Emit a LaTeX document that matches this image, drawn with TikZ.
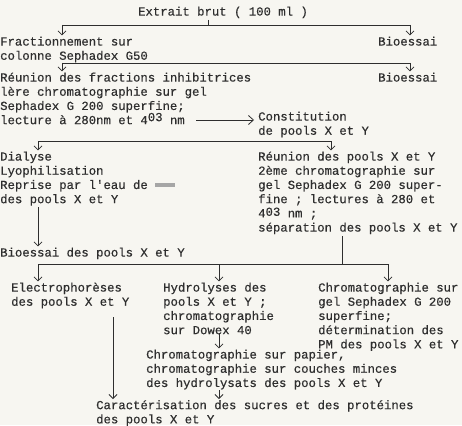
\documentclass[tikz,border=0pt]{standalone}
\usepackage{fontspec}
\setmonofont[FakeBold=0.4]{Liberation Mono}
\usetikzlibrary{positioning}
\usetikzlibrary{arrows.meta}
\definecolor{ink}{HTML}{2E2E2E}
\definecolor{fond}{HTML}{F7F6F1}
\tikzset{
	etape/.style = {anchor = north west, align = left, inner sep = 0pt, text = ink},
	trait/.style = {ink, line width = 0.8pt},
	fleche/.style = {trait, -{Straight Barb[length = 4pt, width = 8pt]}}
}

\begin{document}
\begin{tikzpicture}[x = 1pt, y = -1pt, font = \ttfamily\fontsize{12.3}{14.2}\selectfont]
	\fill[fond] (0, 0) rectangle (462, 425);
	\useasboundingbox (0, 0) rectangle (462, 425);
	\node (extrait) at (223, 5.4) [etape, anchor = north] {\strut Extrait brut ( 100 ml )};
	\node (frac) at (0, 35.4) [etape] {\strut Fractionnement sur\\colonne Sephadex G50};
	\node (bio1) at (378, 35.4) [etape] {\strut Bioessai};
	\node (reunion) at (0, 71.4) [etape] {\strut Réunion des fractions inhibitrices\\lère chromatographie sur gel\\Sephadex G 200 superfine;\\lecture à 280nm et 4\raisebox{3pt}{03} nm};
	\node (bio2) at (378, 71.4) [etape] {\strut Bioessai};
	\node (constit) at (258, 110.4) [etape] {\strut Constitution\\de pools X et Y};
	\node (dialyse) at (0, 150.4) [etape] {\strut Dialyse\\Lyophilisation\\Reprise par l'eau de \textcolor{gray!70}{\rule[2pt]{20pt}{4pt}}\\des pools X et Y};
	\node (pools) at (258, 150.4) [etape] {\strut Réunion des pools X et Y\\2ème chromatographie sur\\gel Sephadex G 200 super-\\fine ; lectures à 280 et\\4\raisebox{1.5pt}{03} nm ;\\séparation des pools X et Y};
	\node (biopools) at (0, 246.4) [etape] {\strut Bioessai des pools X et Y};
	\node (electro) at (11, 281.4) [etape] {\strut Electrophorèses\\des pools X et Y};
	\node (hydro) at (163, 281.4) [etape] {\strut Hydrolyses des\\pools X et Y ;\\chromatographie\\sur Dowex 40};
	\node (gel) at (318, 281.4) [etape] {\strut Chromatographie sur\\gel Sephadex G 200\\superfine;\\détermination des\\PM des pools X et Y};
	\node (papier) at (146, 348.4) [etape] {\strut Chromatographie sur papier,\\chromatographie sur couches minces\\des hydrolysats des pools X et Y};
	\node (caract) at (96, 399) [etape] {\strut Caractérisation des sucres et des protéines\\des pools X et Y};

	\coordinate (a0) at (208, 20);
	\coordinate (a1) at (62, 25);
	\coordinate (a2) at (410, 25);
	\draw[trait] (a0) -- (a0 |- a1);
	\draw[trait] (a1) -- (a2);
	\draw[fleche] (a1) -- (a1 |- frac.north);
	\draw[fleche] (a2) -- (a2 |- bio1.north);

	\coordinate (b1) at (62, 63);
	\coordinate (b2) at (410, 63);
	\draw[trait] (b1) -- (b2);
	\draw[fleche] (b1) -- (b1 |- reunion.north);
	\draw[fleche] (b2) -- (b2 |- bio2.north);

	\coordinate (h1) at (196, 120);
	\coordinate (h2) at (254, 120);
	\draw[trait, -{Straight Barb[length = 5pt, width = 9pt]}] (h1) -- (h2);

	\coordinate (c1) at (38, 141);
	\coordinate (c2) at (331, 141);
	\draw[trait] (c1) -- (c2);
	\draw[fleche] (c1) -- (c1 |- dialyse.north);
	\draw[fleche] (c2) -- (c2 |- pools.north);

	\coordinate (e1) at (38, 207);
	\draw[fleche] (e1) -- (e1 |- biopools.north);

	\coordinate (d0) at (342, 236);
	\coordinate (d1) at (38, 264);
	\coordinate (d2) at (219, 264);
	\coordinate (d3) at (388, 264);
	\draw[trait] (d0) -- (d0 |- d1);
	\draw[trait] (d1) -- (d3);
	\draw[fleche] (d1) -- (d1 |- electro.north);
	\draw[fleche] (d2) -- (d2 |- hydro.north);
	\draw[fleche] (d3) -- (d3 |- gel.north);

	\coordinate (f1) at (113, 317);
	\coordinate (f2) at (219, 333);
	\coordinate (f3) at (219, 390);
	\draw[fleche] (f1) -- (f1 |- caract.north);
	\draw[fleche] (f2) -- (f2 |- papier.north);
	\draw[fleche] (f3) -- (f3 |- caract.north);
\end{tikzpicture}
\end{document}
